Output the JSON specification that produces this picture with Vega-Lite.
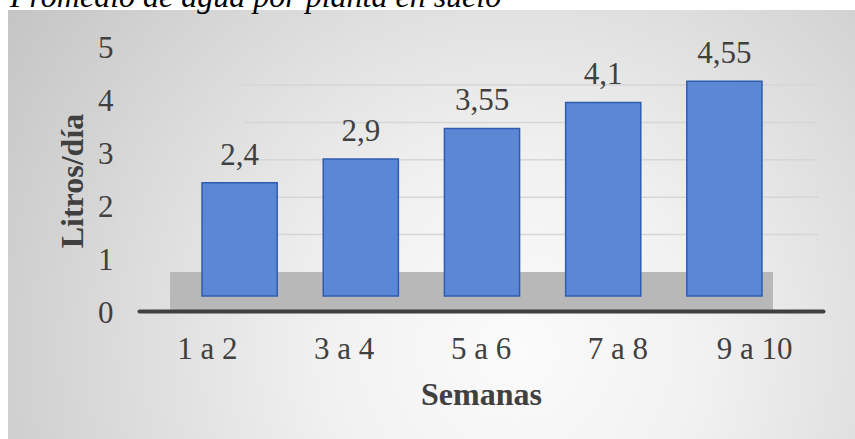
{
  "$schema": "https://vega.github.io/schema/vega-lite/v6.json",
  "autosize": {"type": "none"},
  "width": 847,
  "height": 429,
  "padding": {"left": 8, "top": 10, "right": 0, "bottom": 0},
  "background": "white",
  "title": {
    "text": "Promedio de agua por planta en suelo",
    "anchor": "start",
    "frame": "group",
    "baseline": "alphabetic",
    "offset": 0,
    "dy": 29,
    "dx": 2,
    "font": "Liberation Serif",
    "fontStyle": "italic",
    "fontWeight": "normal",
    "fontSize": 32,
    "color": "#000000"
  },
  "datasets": {
    "bars": [
      {"semanas": "1 a 2", "litros": 2.4},
      {"semanas": "3 a 4", "litros": 2.9},
      {"semanas": "5 a 6", "litros": 3.55},
      {"semanas": "7 a 8", "litros": 4.1},
      {"semanas": "9 a 10", "litros": 4.55}
    ],
    "grid": [{"g": 1}, {"g": 2}, {"g": 3}, {"g": 4}, {"g": 5}]
  },
  "layer": [
    {
      "data": {"name": "grid"},
      "mark": {"type": "rule", "color": "#d6d6d6", "strokeWidth": 1.5},
      "encoding": {
        "y": {"field": "g", "type": "quantitative", "scale": {"domain": [0, 5], "range": [262, 75], "nice": false, "zero": false}, "axis": null},
        "x": {"datum": "1 a 2", "type": "nominal", "scale": {"type": "point", "domain": ["1 a 2", "3 a 4", "5 a 6", "7 a 8", "9 a 10"], "range": [235, 810], "padding": 0}, "axis": null},
        "x2": {"datum": "9 a 10"}
      }
    },
    {
      "data": {"values": [{"parte": "suelo"}]},
      "mark": {"type": "rect", "color": "#b8b8b8"},
      "encoding": {
        "x": {"datum": "1 a 2", "type": "nominal", "scale": {"type": "point", "domain": ["1 a 2", "3 a 4", "5 a 6", "7 a 8", "9 a 10"], "range": [162, 765], "padding": 0}, "axis": null},
        "x2": {"datum": "9 a 10"},
        "y": {"datum": 0, "type": "quantitative", "scale": {"domain": [0, 1], "range": [301, 262], "nice": false, "zero": false}, "axis": null},
        "y2": {"datum": 1}
      }
    },
    {
      "data": {"name": "bars"},
      "mark": {"type": "point", "opacity": 0},
      "encoding": {
        "x": {
          "field": "semanas", "type": "nominal", "sort": null,
          "scale": {"type": "band", "range": [131, 815], "paddingInner": 0, "paddingOuter": 0},
          "axis": {
            "orient": "bottom", "offset": -128, "zindex": 1,
            "title": "Semanas", "labelAngle": 0,
            "domainColor": "#404040", "domainWidth": 4, "domainCap": "round",
            "ticks": false, "tickSize": 0, "grid": false,
            "labelFont": "Liberation Serif", "labelFontSize": 31, "labelColor": "#404040", "labelPadding": 23,
            "titleFont": "Liberation Serif", "titleFontSize": 32, "titleFontWeight": "bold", "titleColor": "#404040", "titlePadding": 15
          }
        },
        "y": {
          "field": "litros", "type": "quantitative",
          "scale": {"domain": [0, 5], "range": [303, 38], "nice": false},
          "axis": {
            "orient": "left", "offset": -105, "zindex": 1,
            "title": "Litros/día", "values": [0, 1, 2, 3, 4, 5], "format": "d",
            "domain": false, "ticks": false, "tickSize": 0, "grid": false,
            "labelFont": "Liberation Serif", "labelFontSize": 31, "labelColor": "#404040", "labelPadding": 0,
            "titleFont": "Liberation Serif", "titleFontSize": 32, "titleFontWeight": "bold", "titleColor": "#404040", "titlePadding": 8
          }
        }
      }
    },
    {
      "data": {"name": "bars"},
      "encoding": {
        "x": {"field": "semanas", "type": "nominal", "sort": null, "scale": {"type": "band", "range": [171, 777], "paddingInner": 0.38, "paddingOuter": 0.19}, "axis": null},
        "y": {"field": "litros", "type": "quantitative", "scale": {"domain": [0, 5], "range": [286, 50], "nice": false}, "axis": null}
      },
      "layer": [
        {"mark": {"type": "bar", "fill": "#5b88d5", "stroke": "#2f5cb0", "strokeWidth": 1.5}},
        {
          "mark": {"type": "text", "baseline": "alphabetic", "dy": -18, "font": "Liberation Serif", "fontSize": 31, "color": "#404040"},
          "encoding": {"text": {"field": "litros", "type": "quantitative", "format": ".2~f"}}
        }
      ]
    }
  ],
  "resolve": {"scale": {"x": "independent", "y": "independent"}},
  "config": {
    "locale": {"number": {"decimal": ",", "thousands": ".", "grouping": [3], "currency": ["", " €"]}},
    "view": {
      "stroke": null,
      "fill": {
        "gradient": "radial",
        "x1": 0.6, "y1": 0.65, "r1": 0,
        "x2": 0.6, "y2": 0.65, "r2": 0.75,
        "stops": [
          {"offset": 0, "color": "#fbfbfb"},
          {"offset": 0.3, "color": "#f1f1f1"},
          {"offset": 1, "color": "#c2c2c2"}
        ]
      }
    }
  }
}
